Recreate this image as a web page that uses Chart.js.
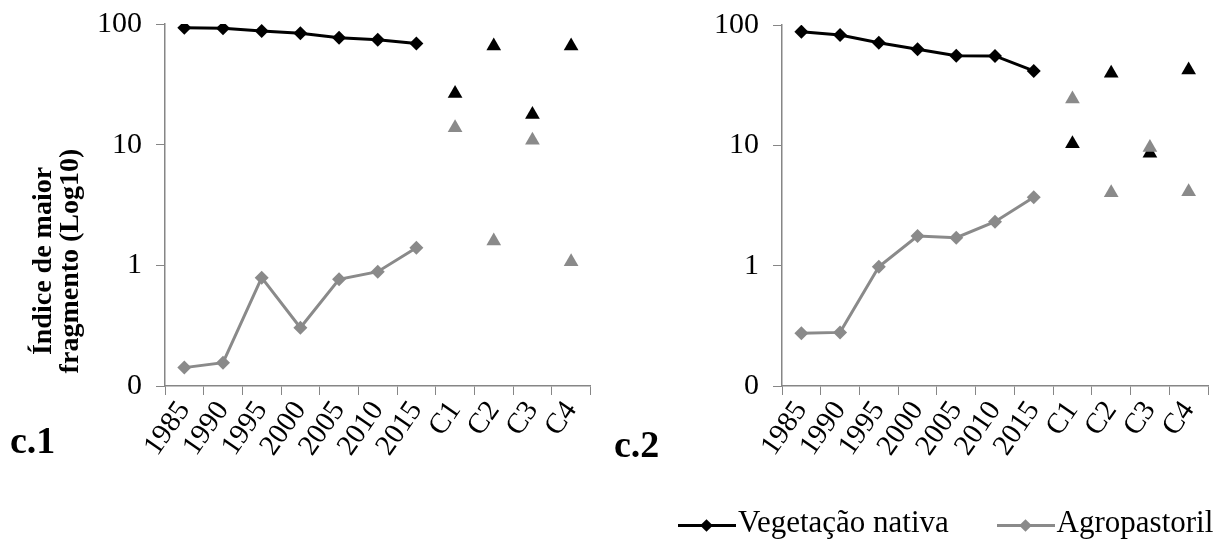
<!DOCTYPE html>
<html>
<head>
<meta charset="utf-8">
<script src="https://cdn.jsdelivr.net/npm/chart.js@4.4.0/dist/chart.umd.min.js"></script>
<style>
  html, body { margin: 0; padding: 0; background: #fff; }
  body { width: 1226px; height: 554px; position: relative; overflow: hidden; font-family: "Liberation Serif", "Times New Roman", serif; }
  .panel { position: absolute; top: 0; height: 554px; }
  #chart-c1 { left: 0; width: 600px; }
  #chart-c2 { left: 610px; width: 616px; }
  .ytitle {
    position: absolute; left: 55px; top: 261px; width: 320px;
    transform: translate(-50%, -50%) rotate(-90deg);
    text-align: center; font-weight: bold; font-size: 28px; line-height: 27px;
  }
  .tag { position: absolute; font-weight: bold; font-size: 38px; }
  .legend { position: absolute; top: 504px; left: 678px; font-size: 31px; white-space: nowrap; }
  .legend span.item { display: inline-block; margin-right: 40px; }
  .sym { display: inline-block; position: relative; width: 58px; height: 20px; vertical-align: middle; margin-right: 2px; }
  .sym .ln { position: absolute; left: 0; right: 0; top: 9px; height: 3px; }
  .sym .dm { position: absolute; left: 24px; top: 6px; width: 9px; height: 9px; transform: rotate(45deg); }
</style>
</head>
<body>
<div class="panel" id="chart-c1"><canvas id="c1"></canvas></div>
<div class="panel" id="chart-c2"><canvas id="c2"></canvas></div>

<div class="ytitle">Índice de maior<br>fragmento (Log10)</div>
<div class="tag" style="left:10px; top:418px;">c.1</div>
<div class="tag" style="left:614px; top:422px;">c.2</div>

<div class="legend">
  <span class="item"><span class="sym"><span class="ln" style="background:#000"></span><span class="dm" style="background:#000"></span></span>Vegetação nativa</span>
  <span class="item"><span class="sym"><span class="ln" style="background:#8a8a8a"></span><span class="dm" style="background:#8a8a8a"></span></span>Agropastoril</span>
</div>

<script>
const years = ['1985', '1990', '1995', '2000', '2005', '2010', '2015'];
const scenarios = ['C1', 'C2', 'C3', 'C4'];
const yTicks = [0.1, 1, 10, 100];

// c.1
const vegC1 = [93, 92, 87.5, 83.7, 77, 74, 69];
const agroC1 = [0.142, 0.156, 0.79, 0.304, 0.766, 0.886, 1.40];
const vegC1Scen = [26.5, 65.7, 17.8, 65.7];
const agroC1Scen = [13.8, 1.59, 10.9, 1.07];

// c.2
const vegC2 = [88, 82.6, 71.3, 63, 55.6, 55.3, 41.5];
const agroC2 = [0.274, 0.279, 0.98, 1.76, 1.71, 2.32, 3.70];
const vegC2Scen = [10.3, 39.7, 8.6, 42.3];
const agroC2Scen = [24.3, 4.04, 9.6, 4.12];

const BLACK = '#000000';
const GREY = '#8a8a8a';
const AXIS = '#868686';

const labels = years.concat(scenarios);
const yearPart = (arr) => arr.concat(scenarios.map(() => null));
const scenPart = (arr) => years.map(() => null).concat(arr);

const lineSet = (label, data, color, order) => ({
  label: label,
  data: yearPart(data),
  borderColor: color,
  backgroundColor: color,
  borderWidth: 3,
  pointStyle: 'rectRot',
  pointRadius: 7,
  pointBorderWidth: 0,
  spanGaps: false,
  order: order
});

const scenSet = (label, data, color, order) => ({
  label: label,
  data: scenPart(data),
  showLine: false,
  borderColor: color,
  backgroundColor: color,
  pointStyle: 'triangle',
  pointRadius: 8.5,
  pointBorderWidth: 0,
  order: order
});

const createPanel = (canvasId, veg, agro, vegScen, agroScen, pad) => {
  const ctx = document.getElementById(canvasId).getContext('2d');
  return new Chart(ctx, {
    type: 'line',
    data: {
      labels: labels,
      datasets: [
        lineSet('Vegetação nativa', veg, BLACK, 3),
        lineSet('Agropastoril', agro, GREY, 2),
        scenSet('Vegetação nativa (cenários)', vegScen, BLACK, 1),
        scenSet('Agropastoril (cenários)', agroScen, GREY, 0)
      ]
    },
    options: {
      responsive: true,
      maintainAspectRatio: false,
      animation: false,
      layout: { padding: { left: pad.left, right: pad.right, top: pad.top, bottom: 0 } },
      plugins: { legend: { display: false }, tooltip: { enabled: false } },
      scales: {
        x: {
          type: 'category',
          offset: true,
          grid: { offset: true, drawOnChartArea: false, tickLength: 9, color: AXIS },
          border: { color: AXIS, width: 1.5 },
          ticks: {
            color: '#000',
            font: { family: 'Liberation Serif', size: 29 },
            minRotation: 55, maxRotation: 55, padding: 0, autoSkip: false
          },
          afterFit: (axis) => { axis.height = 168; }
        },
        y: {
          type: 'logarithmic',
          min: 0.1,
          max: 100,
          afterBuildTicks: (axis) => { axis.ticks = yTicks.map(v => ({ value: v })); },
          grid: { drawOnChartArea: false, tickLength: 9, color: AXIS },
          border: { color: AXIS, width: 1.5 },
          ticks: {
            color: '#000',
            font: { family: 'Liberation Serif', size: 30 },
            padding: 14,
            callback: (v) => String(Math.round(v))
          },
          afterFit: (axis) => {
            axis.width = pad.axis;
            axis.paddingTop = 0;
            axis.paddingBottom = 0;
          }
        }
      }
    }
  });
};

createPanel('c1', vegC1, agroC1, vegC1Scen, agroC1Scen, { left: 95, right: 8, top: 24, axis: 70 });
createPanel('c2', vegC2, agroC2, vegC2Scen, agroC2Scen, { left: 102, right: 18, top: 25, axis: 70 });
</script>
</body>
</html>
